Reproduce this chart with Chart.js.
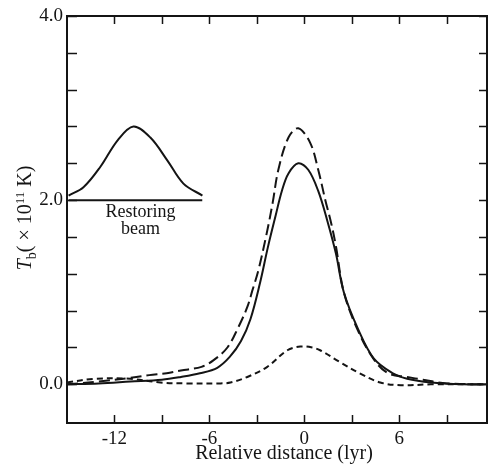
<!DOCTYPE html>
<html>
<head>
<meta charset="utf-8">
<script src="https://cdn.jsdelivr.net/npm/chart.js@4.4.1/dist/chart.umd.min.js"></script>
<style>
  html, body { margin: 0; padding: 0; background: #fff; overflow: hidden; }
  canvas { display: block; }
</style>
</head>
<body>
<canvas id="profile" width="488" height="468"></canvas>
<script>
// tick values
const xTicks = [-12, -9, -6, -3, 0, 3, 6, 9];
const xLabels = [-12, -6, 0, 6];
const yTicks = [0, 0.4, 0.8, 1.2, 1.6, 2.0, 2.4, 2.8, 3.2, 3.6, 4.0];
const yLabels = [0, 2, 4];

// solid profile
const solidX = [-15, -13, -11, -9, -7.8, -6.6, -5.5, -4.7, -4.0, -3.4, -2.8, -2.3, -1.83, -1.4, -1.0, -0.38, 0.25, 0.88, 1.45, 2.0, 2.5, 3.4, 4.4, 5.6, 6.5, 8, 10, 11.6];
const solidY = [0.0, 0.01, 0.03, 0.05, 0.08, 0.12, 0.18, 0.30, 0.47, 0.71, 1.10, 1.49, 1.82, 2.11, 2.29, 2.40, 2.33, 2.10, 1.78, 1.42, 1.00, 0.60, 0.28, 0.12, 0.06, 0.02, 0.0, 0.0];

// long-dash profile
const dashX = [-15, -13, -11, -9.8, -8.7, -7.8, -6.5, -5.75, -4.86, -4.17, -3.6, -3.28, -2.9, -2.4, -2.0, -1.64, -1.0, -0.38, 0.38, 0.88, 1.33, 1.7, 2.0, 2.5, 3.4, 4.4, 5.3, 6.5, 7.5, 9, 11.6];
const dashY = [0.0, 0.03, 0.07, 0.10, 0.12, 0.15, 0.19, 0.26, 0.40, 0.62, 0.84, 1.02, 1.24, 1.62, 1.97, 2.33, 2.68, 2.78, 2.62, 2.33, 2.00, 1.75, 1.50, 1.00, 0.58, 0.27, 0.12, 0.08, 0.05, 0.01, 0.0];

// short-dash profile
const dotX = [-15, -13.3, -11, -9.1, -7.4, -5.3, -4.67, -3.6, -2.34, -1.07, -0.25, 0.5, 1.0, 2.27, 3.5, 4.8, 6.1, 8, 11.6];
const dotY = [0.02, 0.06, 0.06, 0.02, 0.01, 0.01, 0.02, 0.08, 0.19, 0.37, 0.41, 0.40, 0.37, 0.24, 0.12, 0.02, -0.01, 0.0, 0.0];

// restoring beam inset
const beamX = [-14.9, -13.96, -12.9, -11.8, -10.8, -9.73, -8.65, -7.64, -6.44];
const beamY = [2.05, 2.14, 2.36, 2.65, 2.80, 2.68, 2.43, 2.18, 2.05];
const beamBaseX = [-14.9, -6.45];
const beamBaseY = [2.0, 2.0];

const ink = '#141414';
const serif = '"Liberation Serif", "Times New Roman", serif';

function pts(xs, ys) {
    return xs.map((x, i) => ({ x: x, y: ys[i] }));
}

function line(xs, ys, dash) {
    return {
        data: pts(xs, ys),
        borderColor: ink,
        borderWidth: 2,
        borderDash: dash,
        pointRadius: 0,
        fill: false,
        tension: 0.35
    };
}

// frame, inward ticks, titles and inset text
const decor = {
    id: 'decor',
    afterDraw(chart) {
        const ctx = chart.ctx;
        const a = chart.chartArea;
        const xs = chart.scales.x, ys = chart.scales.y;
        ctx.save();
        ctx.strokeStyle = ink;
        ctx.lineWidth = 2;
        ctx.strokeRect(a.left, a.top, a.right - a.left, a.bottom - a.top);

        ctx.beginPath();
        xTicks.forEach(v => {
            const px = Math.round(xs.getPixelForValue(v)) + 0.5;
            ctx.moveTo(px, a.bottom); ctx.lineTo(px, a.bottom - 8);
            ctx.moveTo(px, a.top); ctx.lineTo(px, a.top + 8);
        });
        yTicks.forEach(v => {
            const py = Math.round(ys.getPixelForValue(v)) + 0.5;
            ctx.moveTo(a.left, py); ctx.lineTo(a.left + 10, py);
            ctx.moveTo(a.right, py); ctx.lineTo(a.right - 8, py);
        });
        ctx.lineWidth = 1.5;
        ctx.stroke();

        ctx.fillStyle = ink;
        ctx.textAlign = 'center';
        ctx.textBaseline = 'middle';
        ctx.font = '18px ' + serif;
        const bx = xs.getPixelForValue(-10.36);
        ctx.fillText('Restoring', bx, ys.getPixelForValue(1.87));
        ctx.fillText('beam', bx, ys.getPixelForValue(1.68));

        ctx.font = '20px ' + serif;
        ctx.fillText('Relative distance (lyr)', 284, 454);

        // y title: T_b ( x 10^11 K)
        const parts = [
            { t: 'T', f: 'italic 20px ' + serif, dy: 0 },
            { t: 'b', f: '14px ' + serif, dy: 5 },
            { t: '( \u00d7 10', f: '20px ' + serif, dy: 0 },
            { t: '11', f: '13px ' + serif, dy: -7 },
            { t: ' K)', f: '20px ' + serif, dy: 0 }
        ];
        let w = 0;
        parts.forEach(p => { ctx.font = p.f; p.w = ctx.measureText(p.t).width; w += p.w; });
        ctx.translate(24, 218);
        ctx.rotate(-Math.PI / 2);
        ctx.textAlign = 'left';
        ctx.textBaseline = 'alphabetic';
        let cx = -w / 2;
        parts.forEach(p => {
            ctx.font = p.f;
            ctx.fillText(p.t, cx, 7 + p.dy);
            cx += p.w;
        });
        ctx.restore();
    }
};

new Chart(document.getElementById('profile'), {
    type: 'line',
    data: {
        datasets: [
            line(solidX, solidY, []),
            line(dashX, dashY, [11, 5]),
            line(dotX, dotY, [6, 4]),
            line(beamX, beamY, []),
            line(beamBaseX, beamBaseY, [])
        ]
    },
    options: {
        responsive: false,
        animation: false,
        layout: { padding: { top: 16, right: 1, left: 0, bottom: 0 } },
        plugins: { legend: { display: false }, tooltip: { enabled: false } },
        scales: {
            x: {
                type: 'linear',
                min: -15,
                max: 11.55,
                afterBuildTicks: s => { s.ticks = xTicks.map(v => ({ value: v })); },
                afterFit: s => { s.height = 45; },
                grid: { display: false, drawTicks: false },
                border: { display: false },
                ticks: {
                    padding: 5,
                    color: ink,
                    font: { family: serif, size: 19 },
                    maxRotation: 0,
                    autoSkip: false,
                    callback: v => xLabels.includes(v) ? (v < 0 ? '-' + Math.abs(v) : String(v)) : ''
                }
            },
            y: {
                min: -0.42,
                max: 4.0,
                afterBuildTicks: s => { s.ticks = yTicks.map(v => ({ value: v })); },
                afterFit: s => { s.width = 67; },
                grid: { display: false, drawTicks: false },
                border: { display: false },
                ticks: {
                    padding: 4,
                    color: ink,
                    font: { family: serif, size: 19 },
                    autoSkip: false,
                    callback: v => yLabels.some(l => Math.abs(l - v) < 1e-6) ? v.toFixed(1) : ''
                }
            }
        }
    },
    plugins: [decor]
});
</script>
</body>
</html>
